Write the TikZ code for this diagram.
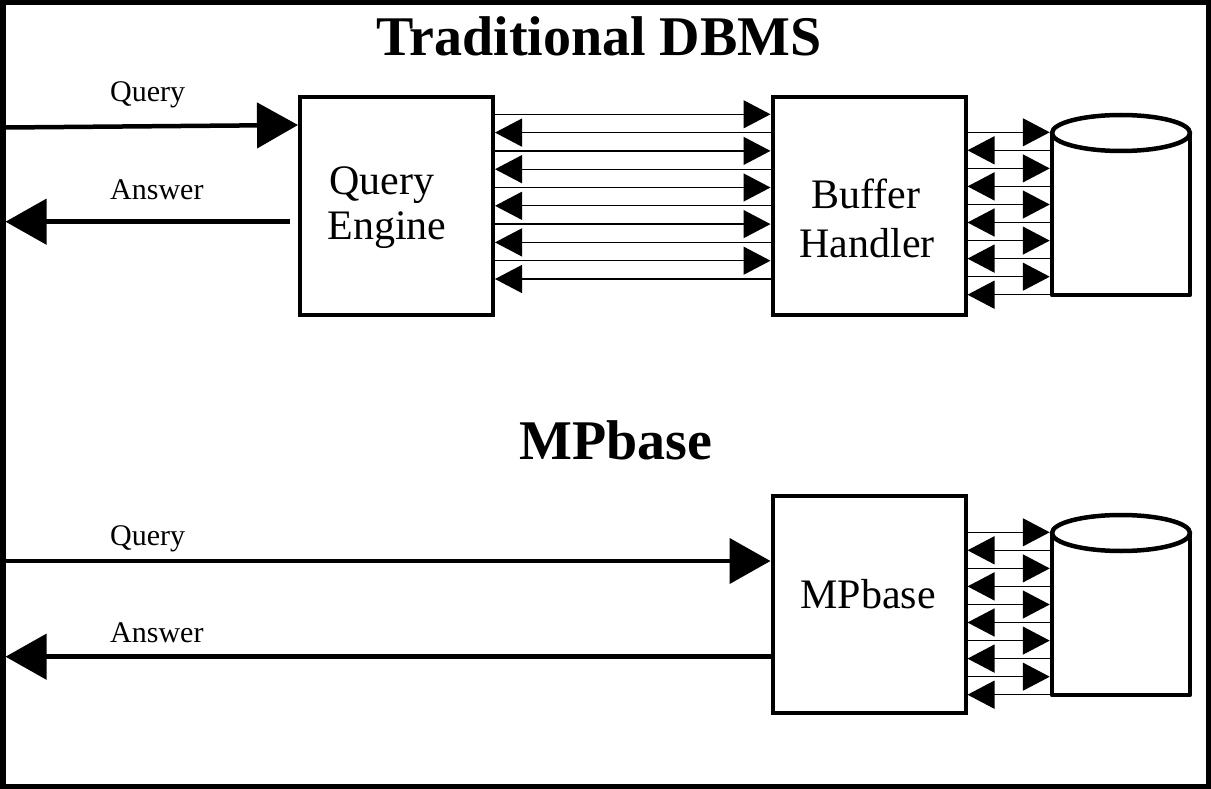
\documentclass[tikz,border=0pt]{standalone}
\usepackage{fontspec}
\setmainfont{Liberation Serif}
\usetikzlibrary{arrows.meta}

\tikzset{
  frame/.style={draw, line width=5.5pt, rectangle, inner sep=0pt, outer sep=-2.75pt,
    minimum width=1205.5pt, minimum height=783.5pt},
  block/.style={draw, line width=4pt, rectangle, inner sep=0pt,
    minimum width=193pt, minimum height=218pt},
  dbslot/.style={rectangle, inner sep=0pt, outer sep=2.25pt,
    minimum width=138pt, minimum height=162pt},
  dbline/.style={line width=4.5pt, line join=round},
  bigarrow/.style={line width=4.5pt, -{Triangle[length=41pt,width=45pt]}},
  smallarrow/.style={line width=1.3pt, -{Triangle[length=27pt,width=28pt]}},
  title/.style={font=\fontsize{56}{60}\selectfont\bfseries, anchor=base, inner sep=0pt},
  boxtext/.style={font=\fontsize{42}{46}\selectfont, anchor=base, inner sep=0pt},
  flowlabel/.style={font=\fontsize{30}{34}\selectfont, anchor=base west, inner sep=0pt},
}

\begin{document}
\begin{tikzpicture}[x=1pt, y=-1pt]
  \useasboundingbox (0,0) rectangle (1211,789);

  % outer frame
  \node[frame] (frame) at (605.5,394.5) {};

  % headings
  \node[title] (t1) at (599,56) {Traditional DBMS};
  \node[title] (t2) at (616,459) {MPbase};

  % ---------- traditional DBMS ----------
  \node[block] (qe) at (396.5,206) {};
  \node[block] (bh) at (869,206) {};
  \node[dbslot] (db1) at (1121,214) {};

  \node[boxtext] (qe1) at (382,195) {Query};
  \node[boxtext] (qe2) at (387,240) {Engine};
  \node[boxtext] (bh1) at (866,208) {Buffer};
  \node[boxtext] (bh2) at (867,258) {Handler};

  % disk
  \draw[dbline] (1052,133) -- (1052,295) -- (1190,295) -- (1190,133);
  \draw[dbline, fill=white] (1121,133) ellipse [x radius=69pt, y radius=18pt];

  % query in, answer out
  \node[flowlabel] (lq1) at (110,102) {Query};
  \node[flowlabel] (la1) at (110,200) {Answer};
  \draw[bigarrow] (frame.west |- 0,127.5) -- (qe.west |- 0,125);
  \coordinate (a1) at (290,221.7);
  \draw[bigarrow] (a1) -- (frame.west |- a1);

  % engine <-> buffer traffic
  \foreach \k in {0,...,4} {
    \pgfmathsetmacro{\ya}{114.3+36.6*\k}
    \pgfmathsetmacro{\yb}{132.6+36.6*\k}
    \draw[smallarrow] (qe.east |- 0,\ya) -- (bh.west |- 0,\ya);
    \draw[smallarrow] (bh.west |- 0,\yb) -- (qe.east |- 0,\yb);
  }

  % buffer <-> disk traffic
  \foreach \k in {0,...,4} {
    \pgfmathsetmacro{\ya}{132.3+36.1*\k}
    \pgfmathsetmacro{\yb}{150.3+36.1*\k}
    \draw[smallarrow] (bh.east |- 0,\ya) -- (db1.west |- 0,\ya);
    \draw[smallarrow] (db1.west |- 0,\yb) -- (bh.east |- 0,\yb);
  }

  % ---------- MPbase ----------
  \node[block, minimum height=217pt] (mp) at (869,604.5) {};
  \node[dbslot] (db2) at (1121,614) {};
  \node[boxtext] (mp1) at (868,608) {MPbase};

  \draw[dbline] (1052,533) -- (1052,695) -- (1190,695) -- (1190,533);
  \draw[dbline, fill=white] (1121,533) ellipse [x radius=69pt, y radius=18pt];

  \node[flowlabel] (lq2) at (110,545) {Query};
  \node[flowlabel] (la2) at (110,642) {Answer};
  \draw[bigarrow] (frame.west |- 0,561) -- (mp.west |- 0,561);
  \draw[bigarrow] (mp.west |- 0,656.7) -- (frame.west |- 0,656.7);

  \foreach \k in {0,...,4} {
    \pgfmathsetmacro{\ya}{532.3+36.1*\k}
    \pgfmathsetmacro{\yb}{550.3+36.1*\k}
    \draw[smallarrow] (mp.east |- 0,\ya) -- (db2.west |- 0,\ya);
    \draw[smallarrow] (db2.west |- 0,\yb) -- (mp.east |- 0,\yb);
  }
\end{tikzpicture}
\end{document}
